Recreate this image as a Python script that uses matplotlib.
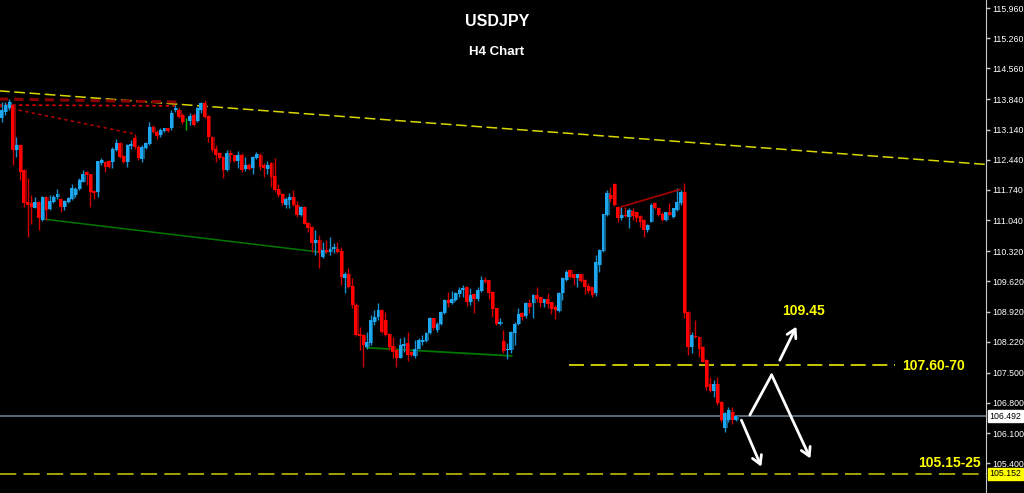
import matplotlib
matplotlib.use("Agg")
import matplotlib.pyplot as plt
import numpy as np

# H4 candles (oldest first)
opens = [
    113.40, 113.55, 113.63, 113.71, 112.67, 112.78, 112.20, 111.46, 111.43, 111.33,
    111.47, 111.04, 111.58, 111.29, 111.45, 111.58, 111.54, 111.35, 111.45, 111.53,
    111.62, 111.76, 111.93, 112.16, 112.10, 111.71, 111.70, 112.36, 112.39, 112.41,
    112.39, 112.67, 112.82, 112.53, 112.39, 112.77, 112.95, 112.74, 112.46, 112.72,
    112.80, 113.21, 113.09, 113.01, 113.11, 113.17, 113.17, 113.59, 113.59, 113.48,
    113.36, 113.34, 113.48, 113.34, 113.59, 113.75, 113.46, 112.97, 112.70, 112.59,
    112.51, 112.20, 112.60, 112.55, 112.41, 112.55, 112.22, 112.32, 112.26, 112.47,
    112.56, 112.32, 112.22, 112.36, 112.06, 111.76, 111.64, 111.40, 111.51, 111.58,
    111.39, 111.16, 111.35, 110.98, 110.89, 110.50, 110.59, 110.19, 110.34, 110.31,
    110.38, 110.38, 110.32, 109.70, 109.79, 109.52, 109.08, 108.39, 108.37, 108.10,
    108.20, 108.68, 108.80, 108.95, 108.72, 108.40, 108.12, 108.02, 107.85, 108.12,
    108.18, 107.99, 107.89, 108.06, 108.22, 108.24, 108.41, 108.76, 108.50, 108.63,
    108.88, 109.18, 109.11, 109.18, 109.33, 109.42, 109.49, 109.15, 109.32, 109.20,
    109.40, 109.66, 109.65, 109.38, 108.99, 108.64, 108.24, 108.03, 108.03, 108.41,
    108.64, 108.89, 108.81, 109.12, 109.11, 109.30, 109.26, 109.11, 109.22, 109.13,
    109.03, 108.93, 109.34, 109.65, 109.88, 109.78, 109.70, 109.78, 109.65, 109.52,
    109.48, 109.34, 110.01, 110.32, 111.16, 111.62, 111.87, 111.35, 111.08, 111.16,
    111.12, 111.25, 111.22, 111.14, 111.04, 110.81, 111.00, 111.43, 111.33, 111.19,
    111.04, 111.23, 111.12, 111.27, 111.43, 111.70, 108.91, 108.10, 108.36, 108.34,
    108.10, 107.79, 107.23, 107.07, 107.23, 106.83, 106.21, 106.40, 106.59, 106.40,
]
highs = [
    113.79, 113.79, 113.85, 113.72, 112.97, 112.80, 112.22, 112.01, 111.62, 111.58,
    111.48, 111.61, 111.60, 111.62, 111.62, 111.76, 111.56, 111.51, 111.58, 111.87,
    111.81, 112.01, 112.20, 112.18, 112.12, 111.74, 112.41, 112.49, 112.42, 112.43,
    112.74, 112.92, 112.86, 112.55, 112.80, 112.90, 113.03, 112.78, 112.78, 112.86,
    113.32, 113.25, 113.13, 113.17, 113.18, 113.18, 113.59, 113.72, 113.63, 113.52,
    113.41, 113.52, 113.52, 113.67, 113.77, 113.83, 113.48, 113.00, 112.78, 112.61,
    112.53, 112.67, 112.67, 112.56, 112.64, 112.59, 112.51, 112.36, 112.53, 112.63,
    112.59, 112.36, 112.41, 112.39, 112.47, 111.87, 111.66, 111.58, 111.68, 111.74,
    111.48, 111.37, 111.37, 111.00, 110.91, 110.81, 110.69, 110.54, 110.58, 110.65,
    110.50, 110.54, 110.42, 109.84, 109.92, 109.69, 109.11, 108.57, 108.39, 108.45,
    108.84, 108.95, 109.11, 108.97, 108.91, 108.43, 108.33, 108.04, 108.30, 108.33,
    108.45, 108.01, 108.27, 108.30, 108.37, 108.45, 108.80, 108.78, 108.68, 108.94,
    109.22, 109.38, 109.40, 109.38, 109.49, 109.53, 109.51, 109.46, 109.34, 109.49,
    109.74, 109.73, 109.66, 109.40, 109.01, 108.76, 108.49, 108.18, 108.47, 108.68,
    108.99, 108.91, 109.15, 109.22, 109.32, 109.49, 109.28, 109.22, 109.34, 109.15,
    109.07, 109.38, 109.73, 109.88, 109.90, 109.80, 109.80, 109.80, 109.67, 109.57,
    109.49, 110.23, 110.37, 111.19, 111.74, 111.81, 111.89, 111.37, 111.35, 111.35,
    111.31, 111.31, 111.23, 111.17, 111.06, 110.94, 111.43, 111.45, 111.34, 111.22,
    111.23, 111.43, 111.33, 111.78, 111.74, 111.89, 108.93, 108.45, 108.72, 108.36,
    108.12, 107.82, 107.41, 107.33, 107.41, 106.84, 106.58, 106.71, 106.71, 106.50,
]
lows = [
    113.32, 113.48, 113.59, 112.32, 112.51, 111.97, 111.35, 110.65, 110.96, 111.31,
    110.81, 111.02, 111.04, 111.27, 111.43, 111.54, 111.23, 111.27, 111.43, 111.51,
    111.58, 111.74, 111.92, 111.85, 111.35, 111.54, 111.58, 112.32, 112.15, 112.26,
    112.24, 112.64, 112.49, 112.36, 112.28, 112.70, 112.70, 112.43, 112.39, 112.70,
    112.78, 113.05, 112.93, 112.97, 113.08, 113.09, 113.13, 113.54, 113.40, 113.28,
    113.13, 113.24, 113.23, 113.32, 113.52, 113.40, 112.86, 112.61, 112.39, 112.46,
    112.01, 112.18, 112.39, 112.39, 112.24, 112.16, 112.18, 112.20, 112.12, 112.46,
    112.20, 112.05, 112.12, 111.81, 111.70, 111.58, 111.40, 111.31, 111.31, 111.37,
    111.12, 111.14, 110.94, 110.77, 110.31, 110.23, 109.92, 110.17, 110.27, 110.23,
    110.27, 110.27, 109.53, 109.34, 109.46, 108.99, 108.36, 108.02, 107.64, 108.06,
    108.14, 108.61, 108.72, 108.43, 108.35, 108.02, 107.85, 107.64, 107.83, 107.99,
    107.78, 107.89, 107.85, 108.04, 108.14, 108.22, 108.40, 108.50, 108.45, 108.61,
    108.86, 109.03, 109.09, 109.17, 109.26, 109.26, 109.05, 109.07, 108.89, 109.17,
    109.38, 109.57, 109.22, 108.80, 108.60, 108.60, 107.95, 107.81, 107.95, 108.14,
    108.60, 108.72, 108.76, 108.89, 108.76, 109.15, 109.03, 109.03, 108.99, 108.87,
    108.74, 108.90, 109.18, 109.63, 109.70, 109.53, 109.49, 109.60, 109.32, 109.36,
    109.26, 109.29, 109.84, 110.30, 111.14, 111.47, 111.37, 111.00, 111.04, 111.12,
    110.85, 111.04, 111.00, 110.89, 110.65, 110.77, 110.99, 111.30, 111.14, 111.02,
    111.02, 111.16, 111.10, 111.25, 111.40, 108.76, 107.91, 107.95, 108.30, 107.87,
    107.74, 107.10, 107.06, 106.94, 106.76, 106.36, 106.13, 106.36, 106.32, 106.38,
]
closes = [
    113.59, 113.71, 113.77, 112.67, 112.78, 112.16, 111.43, 111.39, 111.35, 111.45,
    111.08, 111.58, 111.27, 111.48, 111.58, 111.64, 111.35, 111.48, 111.56, 111.79,
    111.77, 111.97, 112.12, 112.09, 111.70, 111.66, 112.40, 112.43, 112.28, 112.28,
    112.70, 112.82, 112.51, 112.39, 112.78, 112.80, 112.74, 112.47, 112.74, 112.82,
    113.21, 113.08, 113.00, 113.13, 113.17, 113.11, 113.52, 113.63, 113.44, 113.32,
    113.36, 113.46, 113.25, 113.63, 113.75, 113.44, 112.97, 112.67, 112.56, 112.49,
    112.20, 112.59, 112.55, 112.41, 112.56, 112.20, 112.33, 112.22, 112.51, 112.57,
    112.28, 112.24, 112.33, 112.05, 111.74, 111.62, 111.43, 111.54, 111.58, 111.39,
    111.16, 111.35, 110.96, 110.86, 110.50, 110.59, 110.27, 110.34, 110.31, 110.38,
    110.41, 110.31, 109.72, 109.80, 109.49, 109.07, 108.37, 108.36, 108.14, 108.22,
    108.72, 108.80, 108.95, 108.45, 108.37, 108.10, 107.99, 107.85, 108.14, 108.16,
    107.91, 107.91, 108.06, 108.26, 108.27, 108.43, 108.77, 108.53, 108.64, 108.91,
    109.18, 109.11, 109.20, 109.36, 109.42, 109.46, 109.15, 109.30, 109.20, 109.42,
    109.65, 109.61, 109.34, 108.97, 108.64, 108.68, 108.01, 108.06, 108.45, 108.64,
    108.87, 108.80, 109.12, 109.03, 109.30, 109.22, 109.11, 109.20, 109.09, 108.97,
    108.95, 109.36, 109.69, 109.84, 109.73, 109.69, 109.78, 109.63, 109.49, 109.39,
    109.30, 110.06, 110.34, 111.18, 111.66, 111.54, 111.39, 111.08, 111.16, 111.13,
    111.27, 111.14, 111.08, 111.00, 110.81, 110.92, 111.40, 111.31, 111.16, 111.04,
    111.22, 111.17, 111.31, 111.47, 111.70, 108.88, 108.10, 108.37, 108.32, 108.06,
    107.75, 107.17, 107.07, 107.23, 106.79, 106.40, 106.56, 106.63, 106.40, 106.492,
]
doji_index = [50]

price_ticks = [115.960, 115.260, 114.560, 113.840, 113.140, 112.440, 111.740,
               111.040, 110.320, 109.620, 108.920, 108.220, 107.500, 106.800,
               106.100, 105.400]
current_price = 106.492
support_price = 105.152

# drawn objects (bar index, price)
long_trend = [(-1, 114.04), (267, 112.33)]
red_dash_top = [(-1, 113.85), (48, 113.78)]
red_dot_top = [(-1, 113.71), (48, 113.69)]
red_dot_slope = [(-1, 113.69), (36, 113.04)]
green_low_1 = [(11.7, 111.06), (88, 110.28)]
green_low_2 = [(98.9, 108.08), (138.2, 107.89)]
red_top_right = [(168, 111.35), (183.8, 111.75)]
resist_line = [(153.7, 107.69), (242, 107.69)]
bounce_path = [(202.8, 106.52), (208.7, 107.45), (219.2, 105.51)]
up_arrow = [(210.9, 107.79), (215.4, 108.57)]
down_arrow = [(200.5, 106.40), (205.9, 105.32)]

BLUE = "#1ea6ee"
RED = "#ff0000"

fig = plt.figure(figsize=(10.24, 4.93), dpi=100)
fig.patch.set_facecolor("black")
ax = fig.add_axes([0, 0, 986 / 1024, 1])
ax.set_facecolor("black")

o = np.array(opens)
h = np.array(highs)
l = np.array(lows)
c = np.array(closes)
idx = np.arange(len(o))
up = c >= o
body_col = np.where(up, BLUE, RED).astype(object)
wick_col = np.where(up, "#1690d0", "#d00000").astype(object)
ghost_col = np.where(up, "#0d5f88", "#8c0000").astype(object)
for d in doji_index:
    body_col[d] = "#00c000"
    wick_col[d] = "#00c000"
    ghost_col[d] = "#006000"

# faint offset copy gives the smeared look of the screenshot
ax.bar(idx + 0.35, np.maximum(np.abs(c - o), 0.012), bottom=np.minimum(o, c),
       width=0.8, color=list(ghost_col), linewidth=0, zorder=2.5)
ax.vlines(idx, l, h, colors=list(wick_col), linewidth=1.0, zorder=3)
ax.bar(idx, np.maximum(np.abs(c - o), 0.012), bottom=np.minimum(o, c),
       width=0.78, color=list(body_col), linewidth=0, zorder=4)


def seg(points, **kw):
    xs, ys = zip(*points)
    ax.plot(xs, ys, **kw)


seg(long_trend, color="#d8d800", lw=1.1, dashes=(7, 3), zorder=2)
seg(red_dash_top, color="#8a0000", lw=2.2, dashes=(3, 2), zorder=2)
seg(red_dot_top, color="#e00000", lw=1.2, dashes=(2, 2), zorder=2)
seg(red_dot_slope, color="#b00000", lw=1.2, dashes=(2, 2), zorder=2)
seg(green_low_1, color="#007800", lw=1.1, zorder=2)
seg(green_low_2, color="#007800", lw=1.3, zorder=2)
seg(red_top_right, color="#a00000", lw=1.3, zorder=5)
seg(resist_line, color="#e8e800", lw=1.2, dashes=(9, 4), zorder=2)

ax.axhline(current_price, color="#6b7a88", lw=1.2, zorder=1)
ax.axhline(support_price, color="#b0b000", lw=1.3, dashes=(9, 4), zorder=1)

# white scenario arrows
seg(bounce_path[:2], color="white", lw=2, solid_capstyle="round", zorder=6)
arrow_kw = dict(arrowstyle="->,head_length=0.6,head_width=0.35",
                color="white", lw=2, shrinkA=0, shrinkB=0)
for a, b in [(bounce_path[1], bounce_path[2]), (up_arrow[0], up_arrow[1]),
             (down_arrow[0], down_arrow[1])]:
    ax.annotate("", xy=b, xytext=a, arrowprops=arrow_kw, zorder=6)

lab = dict(color="#ffff00", fontsize=10, fontweight="bold",
           family="Liberation Sans", ha="center", va="center", zorder=7)
ax.text(217.2, 108.93, "109.45", **lab)
ax.text(252.7, 107.65, "107.60-70", **lab)
ax.text(257.0, 105.40, "105.15-25", **lab)

fig.text(497 / 1024, 1 - 22 / 493, "USDJPY", color="white", fontsize=11.5,
         fontweight="bold", family="Liberation Sans", ha="center", va="center")
fig.text(497 / 1024, 1 - 52 / 493, "H4 Chart", color="white", fontsize=9.5,
         fontweight="bold", family="Liberation Sans", ha="center", va="center")

ax.set_xlim(-0.46, 266.8)
ax.set_ylim(104.71, 116.146)
for s in ["top", "bottom", "left"]:
    ax.spines[s].set_visible(False)
ax.spines["right"].set_color("#c8c8c8")
ax.set_xticks([])
ax.yaxis.tick_right()
ax.set_yticks(price_ticks)
ax.set_yticklabels([f"{p:.3f}" for p in price_ticks])
ax.tick_params(axis="y", colors="#c8c8c8", length=3, width=1, pad=1.5,
               labelsize=6.3, labelcolor="white")
for t in ax.get_yticklabels():
    t.set_family("Liberation Sans")

box_tf = ax.get_yaxis_transform()
for price, fc in [(current_price, "white"), (support_price, "#ffff00")]:
    ax.text(1.0035, price, f"{price:.3f}", transform=box_tf,
            fontsize=6.3, family="Liberation Sans", color="black",
            va="center", ha="left", clip_on=False,
            bbox=dict(boxstyle="square,pad=0.2", fc=fc, ec=fc))

fig.savefig("out.png", dpi=100, facecolor="black")
